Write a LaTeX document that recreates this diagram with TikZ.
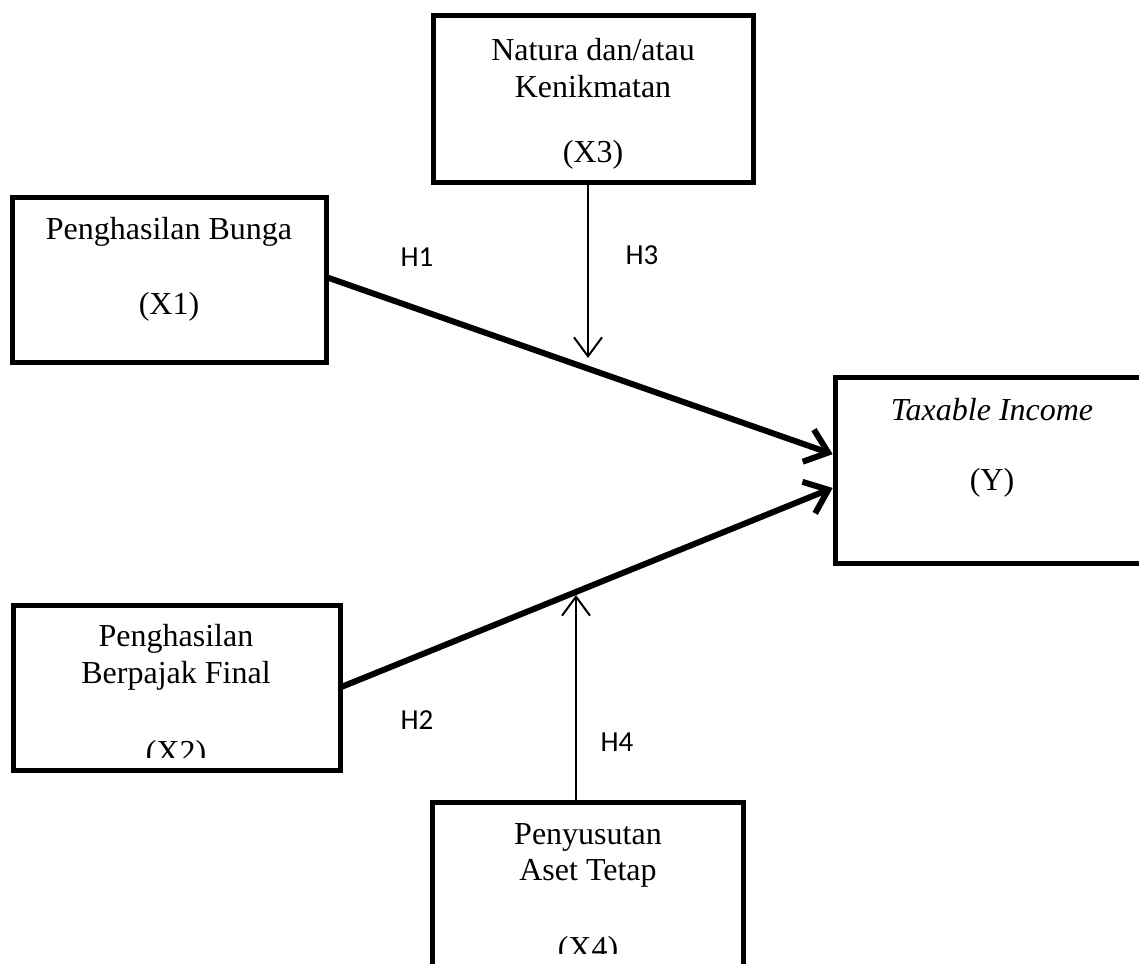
\documentclass[tikz,border=0pt]{standalone}
\usepackage{fontspec}
\setmainfont{Liberation Serif}
\newfontfamily\hfont{Carlito}
\usetikzlibrary{arrows.meta}
\begin{document}
\begin{tikzpicture}[x=1pt,y=-1pt,
  boxnode/.style={draw, line width=5pt, rectangle, inner sep=0pt, outer sep=0pt, anchor=north west},
  boxtext/.style={font=\fontsize{32}{38}\selectfont, anchor=base, inner sep=0pt},
  hlabel/.style={font=\hfont\fontsize{29}{32}\selectfont, inner sep=0pt},
  mainarrow/.style={line width=6pt, shorten >=2.5pt, -{Straight Barb[length=21pt,width=34pt]}},
  modarrow/.style={line width=2pt, -{Straight Barb[length=19pt,width=28pt]}},
]
\useasboundingbox (0,0) rectangle (1139,963);
\clip (0,0) rectangle (1139,963);

% boxes
\node[boxnode, minimum width=320pt, minimum height=166pt] (x3) at (433,16) {};
\node[boxnode, minimum width=314pt, minimum height=165pt] (x1) at (12,197) {};
\node[boxnode, minimum width=330pt, minimum height=186pt] (ybox) at (835,377) {};
\node[boxnode, minimum width=327pt, minimum height=165pt] (x2) at (13,605) {};
\node[boxnode, minimum width=311pt, minimum height=220pt] (x4) at (432,802) {};

% texts
\node[boxtext] (x3a) at (593,61) {Natura dan/atau};
\node[boxtext] (x3b) at (593,98) {Kenikmatan};
\node[boxtext] (x3c) at (593,162) {(X3)};

\node[boxtext] (x1a) at (169,239) {Penghasilan Bunga};
\node[boxtext] (x1b) at (169,314) {(X1)};

\node[boxtext] (ya) at (992,420) {\itshape Taxable Income};
\node[boxtext] (yb) at (992,490) {(Y)};

\node[boxtext] (x2a) at (176,646) {Penghasilan};
\node[boxtext] (x2b) at (176,683) {Berpajak Final};
\begin{scope}
  \clip (0,0) rectangle (1139,757);
  \node[boxtext] (x2c) at (176,762) {(X2)};
\end{scope}

\node[boxtext] (x4a) at (588,844) {Penyusutan};
\node[boxtext] (x4b) at (588,880) {Aset Tetap};
\begin{scope}
  \clip (0,0) rectangle (1139,953);
  \node[boxtext] (x4c) at (588,958) {(X4)};
\end{scope}

% hypothesis labels
\node[hlabel] (h1) at (417,257) {H1};
\node[hlabel] (h2) at (417,720) {H2};
\node[hlabel] (h3) at (642,255) {H3};
\node[hlabel] (h4) at (617,742) {H4};

% connectors
\draw[mainarrow] ([yshift=2.5pt]x1.east) -- ([yshift=15pt]ybox.west);
\draw[mainarrow] (x2.east) -- ([yshift=-17pt]ybox.west);

\coordinate (x3tip) at (588,358);
\coordinate (x4tip) at (576,595);
\draw[modarrow] (x3.south -| x3tip) -- (x3tip);
\draw[modarrow] (x4.north -| x4tip) -- (x4tip);
\end{tikzpicture}
\end{document}
